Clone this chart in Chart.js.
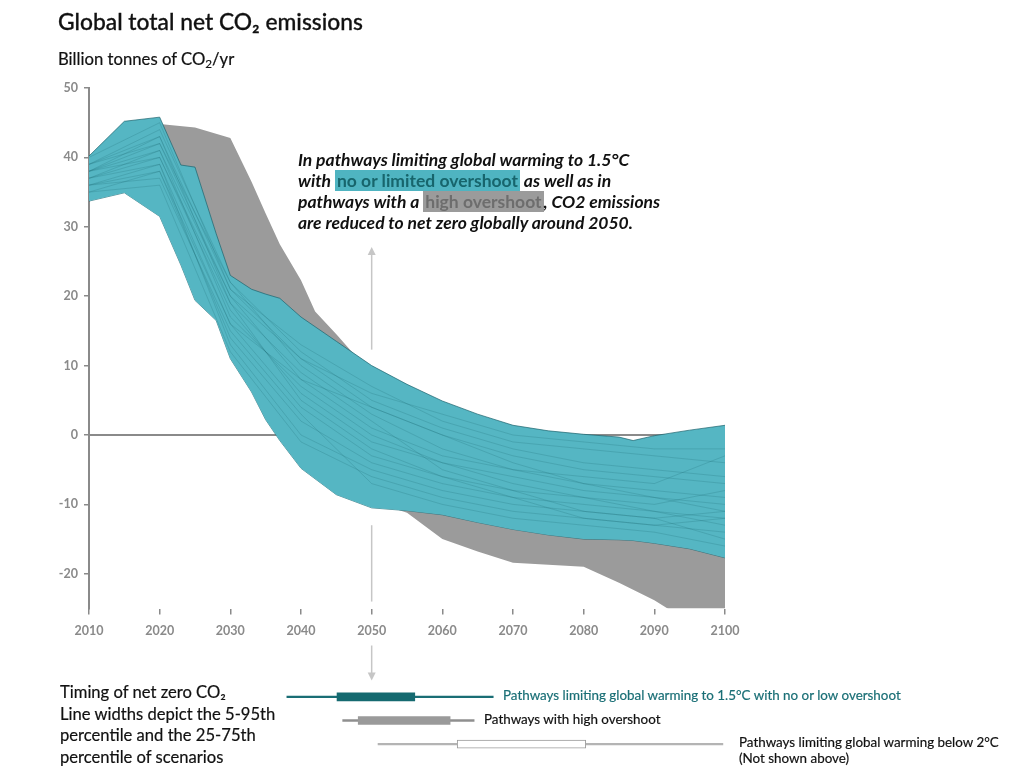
<!DOCTYPE html>
<html>
<head>
<meta charset="utf-8">
<script src="https://cdn.jsdelivr.net/npm/chart.js@4"></script>
<style>
  body { margin: 0; background: #fff; font-family: Lato, "Noto Sans", sans-serif; }
  #wrap { position: relative; width: 1024px; height: 783px; overflow: hidden; }
  canvas { position: absolute; left: 0; }
  .txt { position: absolute; color: #111; white-space: nowrap; }
  .hl1 { background: #4fb4c1; color: #17656c; font-style: normal; font-weight: 700; padding: 0 2px; }
  .hl2 { background: #9b9b9b; color: #6d6d6d; font-style: normal; font-weight: 700; padding: 0 2px; }
  sub { font-size: 0.7em; vertical-align: -0.25em; line-height: 0; }
</style>
</head>
<body>
<div id="wrap">
  <canvas id="main" width="1024" height="783" style="top:0"></canvas>
  <canvas id="timing" width="1024" height="71" style="top:685px"></canvas>

  <div class="txt" style="left:58px;top:7px;font-size:22.8px;font-weight:500;-webkit-text-stroke:0.3px #111">Global total net CO₂ emissions</div>
  <div class="txt" style="left:58px;top:49px;font-size:16.7px;-webkit-text-stroke:0.2px #111">Billion tonnes of CO<sub>2</sub>/yr</div>

  <div class="txt" style="left:298px;top:149px;font-size:17.5px;line-height:21px;font-style:italic;font-weight:700">
    In pathways limiting global warming to 1.5°C<br>
    with <span class="hl1">no or limited overshoot</span> as well as in<br>
    pathways with a <span class="hl2">high overshoot</span>, CO2 emissions<br>
    are reduced to net zero globally around 2050.
  </div>

  <div class="txt" style="left:60px;top:682px;font-size:16.6px;line-height:21.5px;-webkit-text-stroke:0.2px #111">
    Timing of net zero CO₂<br>
    Line widths depict the 5-95th<br>
    percentile and the 25-75th<br>
    percentile of scenarios
  </div>
  <div class="txt" style="left:503px;top:687px;font-size:13.4px;color:#1a6f76;-webkit-text-stroke:0.2px #1a6f76">Pathways limiting global warming to 1.5°C with no or low overshoot</div>
  <div class="txt" style="left:484px;top:711px;font-size:13.4px;-webkit-text-stroke:0.2px #111">Pathways with high overshoot</div>
  <div class="txt" style="left:739px;top:735px;font-size:13.4px;line-height:15.5px;-webkit-text-stroke:0.2px #111">Pathways limiting global warming below 2°C<br>(Not shown above)</div>
</div>

<script>
// 5-95th percentile range, 1.5°C with no or limited overshoot
const tealYears = [2010, 2015, 2020, 2023, 2025, 2028, 2030, 2033, 2035, 2037, 2040, 2045, 2050, 2055, 2060, 2065, 2070, 2075, 2080, 2085, 2087, 2090, 2095, 2100];
const tealUpper = [40.2, 45.2, 45.8, 38.9, 38.6, 29, 23, 21, 20.3, 19.7, 17, 13.5, 10, 7.3, 4.9, 3.0, 1.4, 0.6, 0.1, -0.3, -0.8, -0.1, 0.7, 1.4];
const tealLower = [33.7, 34.9, 31.5, 24.5, 19.4, 16.5, 11, 6.2, 2.2, -0.8, -4.8, -8.6, -10.5, -10.9, -11.5, -12.6, -13.6, -14.4, -15.0, -15.1, -15.2, -15.6, -16.4, -17.7];

// range for high overshoot pathways
const grayYears = [2020, 2025, 2030, 2033, 2035, 2037, 2040, 2042, 2045, 2047, 2050, 2055, 2060, 2065, 2070, 2075, 2080, 2085, 2090, 2095, 2100];
const grayUpper = [44.8, 44.3, 42.8, 36.5, 31.9, 27.5, 22.3, 17.8, 14.5, 12.2, 9, 6, 3.5, 1.5, 0.5, 0, -0.5, -1, -1.5, -3, -5];
const grayLower = [36, 30, 18, 10, 5, 2, -2, -4, -6.5, -8, -9.5, -11.2, -15, -16.8, -18.4, -18.7, -19, -21.3, -23.8, -27, -29];

// individual scenario lines inside the teal range
const scenarioYears = [2010, 2020, 2030, 2040, 2050, 2060, 2070, 2080, 2090, 2100];
const scenarios = [
  [38, 42, 22, 10, 3, -2, -5, -7, -8, -9],
  [37, 40, 18, 6, -1, -4, -6, -8, -9, -10],
  [36, 38, 14, 2, -4, -7, -9, -10, -11, -12],
  [39, 44, 22, 12, 5, 1, -2, -4, -5, -6],
  [35, 36, 12, -1, -6, -9, -11, -12, -13, -14],
  [38, 41, 20, 8, 1, -3, -5, -6, -7, -3],
  [37, 39, 16, 4, -3, -6, -8, -11, -12, -15],
  [36, 37, 15, 3, -7, -10, -12, -13, -14, -16],
  [39, 43, 21, 13, 7, 2, -1, -2, -3, -4],
  [38, 40, 19, 9, 2, -5, -8, -9, -10, -8],
  [40, 45, 21, 11, 4, 0, -3, -5, -6, -7],
  [37, 41, 17, 7, 0, -4, -7, -9, -11, -13],
  [36, 39, 13, 0, -5, -8, -10, -11, -12, -11],
  [38, 43, 19, 5, -2, -6, -9, -12, -13, -12],
  [35, 38, 16, 8, 4, 0, -4, -7, -9, -11],
  [39, 42, 20, 11, 6, 3, 0, -1, -2, -2]
];

const yTicks = [50, 40, 30, 20, 10, 0, -10, -20];
const xTicks = [2010, 2020, 2030, 2040, 2050, 2060, 2070, 2080, 2090, 2100];
const arrowYear = 2050;

// timing of net zero: [5th, 95th] and [25th, 75th]
const timingRows = ['1.5C low overshoot', 'high overshoot', 'below 2C'];
const timingWhisker = [[2038, 2067.2], [2045.9, 2064.5], [2050.9, 2099.7]];
const timingBox = [[2045.1, 2056.1], [2048.1, 2061.1], [2062.1, 2080.3]];

const pts = (xs, ys) => xs.map((x, i) => ({ x: x, y: ys[i] }));
const axisGray = '#8a8a8a';

const arrowPlugin = {
  id: 'netZeroArrow',
  afterDatasetsDraw(chart) {
    const { ctx, scales: { x, y }, chartArea } = chart;
    const px = x.getPixelForValue(arrowYear);
    ctx.save();
    ctx.strokeStyle = '#c6c6c6';
    ctx.fillStyle = '#c6c6c6';
    ctx.lineWidth = 1.5;
    const seg = (a, b) => { ctx.beginPath(); ctx.moveTo(px, a); ctx.lineTo(px, b); ctx.stroke(); };
    const head = (tip, dir) => {
      ctx.beginPath();
      ctx.moveTo(px, tip);
      ctx.lineTo(px - 4, tip - dir * 8);
      ctx.lineTo(px + 4, tip - dir * 8);
      ctx.closePath();
      ctx.fill();
    };
    const upTop = y.getPixelForValue(27.1);
    seg(upTop + 6, y.getPixelForValue(12.3));
    head(upTop, -1);
    seg(y.getPixelForValue(-13), y.getPixelForValue(-24));
    seg(chartArea.bottom + 37, chartArea.bottom + 66);
    head(chartArea.bottom + 72, 1);
    ctx.restore();
  }
};

const datasets = [];
scenarios.forEach(s => datasets.push({
  data: pts(scenarioYears, s),
  borderColor: 'rgba(28,105,115,0.22)',
  borderWidth: 1,
  pointRadius: 0,
  fill: false
}));
datasets.push({
  data: pts(tealYears, tealUpper),
  borderColor: 'rgba(30,100,110,0.7)',
  borderWidth: 1,
  backgroundColor: '#55b6c3',
  pointRadius: 0,
  fill: '+1'
});
datasets.push({
  data: pts(tealYears, tealLower),
  borderColor: 'rgba(30,100,110,0.7)',
  borderWidth: 1,
  pointRadius: 0,
  fill: false
});
datasets.push({
  data: pts(grayYears, grayUpper),
  borderColor: '#9b9b9b',
  borderWidth: 0,
  backgroundColor: '#9b9b9b',
  pointRadius: 0,
  fill: '+1'
});
datasets.push({
  data: pts(grayYears, grayLower),
  borderColor: '#9b9b9b',
  borderWidth: 0,
  pointRadius: 0,
  fill: false
});
// zero line
datasets.push({
  data: [{ x: xTicks[0], y: 0 }, { x: xTicks[xTicks.length - 1], y: 0 }],
  borderColor: axisGray,
  borderWidth: 2,
  pointRadius: 0,
  fill: false
});

new Chart(document.getElementById('main'), {
  type: 'line',
  data: { datasets: datasets },
  plugins: [arrowPlugin],
  options: {
    responsive: false,
    animation: false,
    layout: { padding: { left: 0, top: 88, right: 299, bottom: 0 } },
    plugins: { legend: { display: false }, tooltip: { enabled: false } },
    scales: {
      x: {
        type: 'linear',
        min: 2010,
        max: 2100,
        afterFit: s => { s.height = 174.5; },
        afterBuildTicks: s => { s.ticks = xTicks.map(v => ({ value: v })); },
        border: { display: false },
        grid: { drawOnChartArea: false, tickLength: 6, color: axisGray, lineWidth: 1.5 },
        ticks: {
          padding: 9,
          color: '#8a8a8a',
          font: { family: 'Lato', size: 12.5, weight: 'bold' },
          callback: v => String(v)
        }
      },
      y: {
        min: -25,
        max: 50,
        afterFit: s => { s.width = 89; },
        afterBuildTicks: s => { s.ticks = yTicks.map(v => ({ value: v })); },
        border: { display: true, color: axisGray, width: 2 },
        grid: { drawOnChartArea: false, tickLength: 5, color: axisGray, lineWidth: 1.5 },
        ticks: {
          padding: 6,
          color: '#8a8a8a',
          font: { family: 'Lato', size: 12.5, weight: 'bold' }
        }
      }
    }
  }
});

new Chart(document.getElementById('timing'), {
  type: 'bar',
  data: {
    labels: timingRows,
    datasets: [
      {
        data: timingBox,
        backgroundColor: ['#156a70', '#9a9a9a', '#ffffff'],
        borderColor: ['#156a70', '#9a9a9a', '#9a9a9a'],
        borderWidth: [0, 0, 1],
        borderSkipped: false,
        barThickness: 8,
        grouped: false
      },
      {
        data: timingWhisker,
        backgroundColor: ['#1a6e75', '#8f8f8f', '#b4b4b4'],
        barThickness: 1.6,
        grouped: false
      }
    ]
  },
  options: {
    indexAxis: 'y',
    responsive: false,
    animation: false,
    layout: { padding: { left: 89, right: 299, top: 0, bottom: 0 } },
    plugins: { legend: { display: false }, tooltip: { enabled: false } },
    scales: {
      x: { type: 'linear', min: 2010, max: 2100, display: false },
      y: { display: false, offset: true }
    }
  }
});
</script>
</body>
</html>
